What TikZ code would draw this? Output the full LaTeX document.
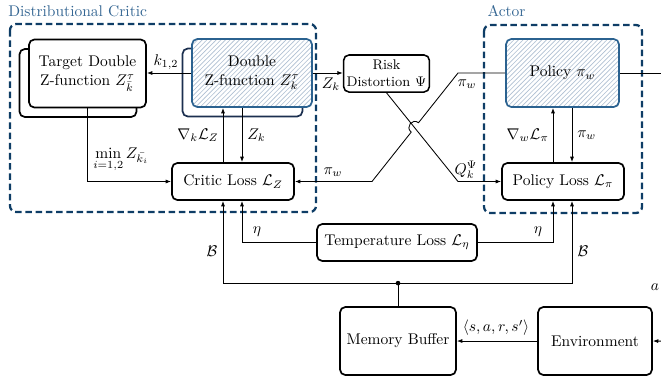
\documentclass[tikz,border=0pt]{standalone}
\usepackage{amsmath}
\usetikzlibrary{patterns,arrows.meta,calc}
\definecolor{lblue}{HTML}{336592}
\definecolor{dblue}{HTML}{0E3D66}
\definecolor{fblue}{HTML}{2B6290}
\definecolor{navy}{HTML}{1B2F4F}
\definecolor{hatch}{HTML}{AFC0D2}
\tikzset{
 box/.style={draw, line width=1.1pt, rounded corners=3.5pt, fill=white, align=center, inner sep=2pt},
 hatched/.style={draw=fblue, line width=1.1pt, rounded corners=3.5pt, align=center, inner sep=2pt, preaction={fill=white}, pattern=north east lines, pattern color=hatch},
 group/.style={draw=dblue, line width=1.45pt, dash pattern=on 4.2pt off 2.4pt, rounded corners=4pt},
 grouplabel/.style={text=lblue, anchor=base west, inner sep=0pt},
 conn/.style={line width=0.55pt, -{Latex[length=3.5pt,width=2.6pt]}},
 plain/.style={line width=0.55pt},
 lab/.style={inner sep=0pt},
 big/.style={minimum width=#1, minimum height=43.9pt},
 small/.style={minimum width=#1, minimum height=23.9pt},
}
\begin{document}
\begin{tikzpicture}[x=0.645pt, y=-0.645pt]
\useasboundingbox (0,0) rectangle (661,377);
\clip (0,0) rectangle (661,377);

% groups
\draw[group] (10,24) rectangle (316,212);
\draw[group] (484,25) rectangle (642,213);
\node[grouplabel] (critlab) at (8,16.7) {Distributional Critic};
\node[grouplabel] (actlab) at (487.3,16.7) {Actor};

% boxes
\node[box, big=75.5pt] (targetback) at (78,83) {};
\node[box, big=75.5pt] (target) at (87.5,73.5) {Target Double\\Z-function $Z^{\tau}_{\bar{k}}$};
\node[box, draw=navy, big=77.4pt] (doubleback) at (242.5,82.5) {};
\node[hatched, big=77.4pt] (double) at (252,73) {Double\\Z-function $Z^{\tau}_{k}$};
\node[box, line width=1pt, font=\small, small=54.8pt] (risk) at (386.5,73.5) {Risk\\Distortion $\Psi$};
\node[box, small=78.7pt] (cl) at (233,181.5) {Critic Loss $\mathcal{L}_Z$};
\node[hatched, big=72.9pt] (policy) at (562.5,73) {Policy $\pi_w$};
\node[box, small=78.7pt] (pl) at (563,181.5) {Policy Loss $\mathcal{L}_\pi$};
\node[box, small=103.2pt] (tl) at (397,242.5) {Temperature Loss $\mathcal{L}_\eta$};
\node[box, big=74.8pt] (mem) at (398,341) {Memory Buffer};
\node[box, big=73.5pt] (env) at (595,341) {Environment};

% critic connectors
\draw[conn] (double.west) -- (double.west -| target.east);
\draw[conn] (double.east) -- (double.east -| risk.west);
\path (cl.north) ++(-10,0) coordinate (g1);
\path (cl.north) ++(9,0) coordinate (g2);
\draw[conn] (g1) -- (g1 |- double.south);
\draw[conn] (g2 |- double.south) -- (g2);
\draw[conn] (target.south) |- (cl.west);

% crossing lines
\coordinate (pw1) at (458,73);
\coordinate (j2) at (418.5,122.7);
\coordinate (jc2) at (412.3,117.8);
\coordinate (jc1) at (405.0,127.1);
\coordinate (j1) at (411.2,132.1);
\coordinate (pw2) at (372,181.5);
\draw[conn] (policy.west) -- (pw1) -- (j2) .. controls (jc2) and (jc1) .. (j1) -- (pw2) -- (cl.east);
\coordinate (q1) at (458,181.5);
\draw[conn] (risk.south) -- (q1) -- (pl.west);

% actor connectors
\path (pl.north) ++(-10,0) coordinate (a1);
\path (pl.north) ++(9,0) coordinate (a2);
\draw[conn] (a1) -- (a1 |- policy.south);
\draw[conn] (a2 |- policy.south) -- (a2);
\coordinate (pout) at (680,73);
\draw[plain] (policy.east) -- (pout);

% temperature
\draw[conn] (tl.west) -| (cl.south -| g2);
\draw[conn] (tl.east) -| (pl.south -| a1);

% buffer
\path (mem.north) ++(0,-23) coordinate (dot);
\draw[plain] (mem.north) -- (dot);
\fill (dot) circle (1.5pt);
\draw[conn] (dot) -| (cl.south -| g1);
\draw[conn] (dot) -| (pl.south -| a2);

% environment
\draw[conn] (env.west) -- (env.west -| mem.east);
\coordinate (ain) at (680,341.5);
\draw[conn] (ain) -- (env.east);

% labels
\node[lab] (lk) at (166,62) {$k_{1,2}$};
\node[lab] (lzk1) at (331,84) {$Z_k$};
\node[lab, anchor=east] (lgz) at (219,135) {$\nabla_k\mathcal{L}_Z$};
\node[lab, anchor=west] (lzk2) at (247,135) {$Z_k$};
\node[lab] (lmin) at (121,160) {$\min\limits_{i=1,2} Z_{\bar{k_i}}$};
\node[lab] (lpw1) at (467,84) {$\pi_w$};
\node[lab] (lpw2) at (333,172) {$\pi_w$};
\node[lab] (lq) at (466,170) {$Q_k^{\Psi}$};
\node[lab, anchor=east] (lgw) at (549,135) {$\nabla_w\mathcal{L}_\pi$};
\node[lab, anchor=west] (lpw3) at (577,135) {$\pi_w$};
\node[lab] (leta1) at (257,232) {$\eta$};
\node[lab] (leta2) at (538,232) {$\eta$};
\node[lab] (lb1) at (212,251) {$\mathcal{B}$};
\node[lab] (lb2) at (583,251) {$\mathcal{B}$};
\node[lab] (la) at (655,287) {$a$};
\node[lab] (ltr) at (496,328) {$\langle s,a,r,s'\rangle$};
\end{tikzpicture}
\end{document}
